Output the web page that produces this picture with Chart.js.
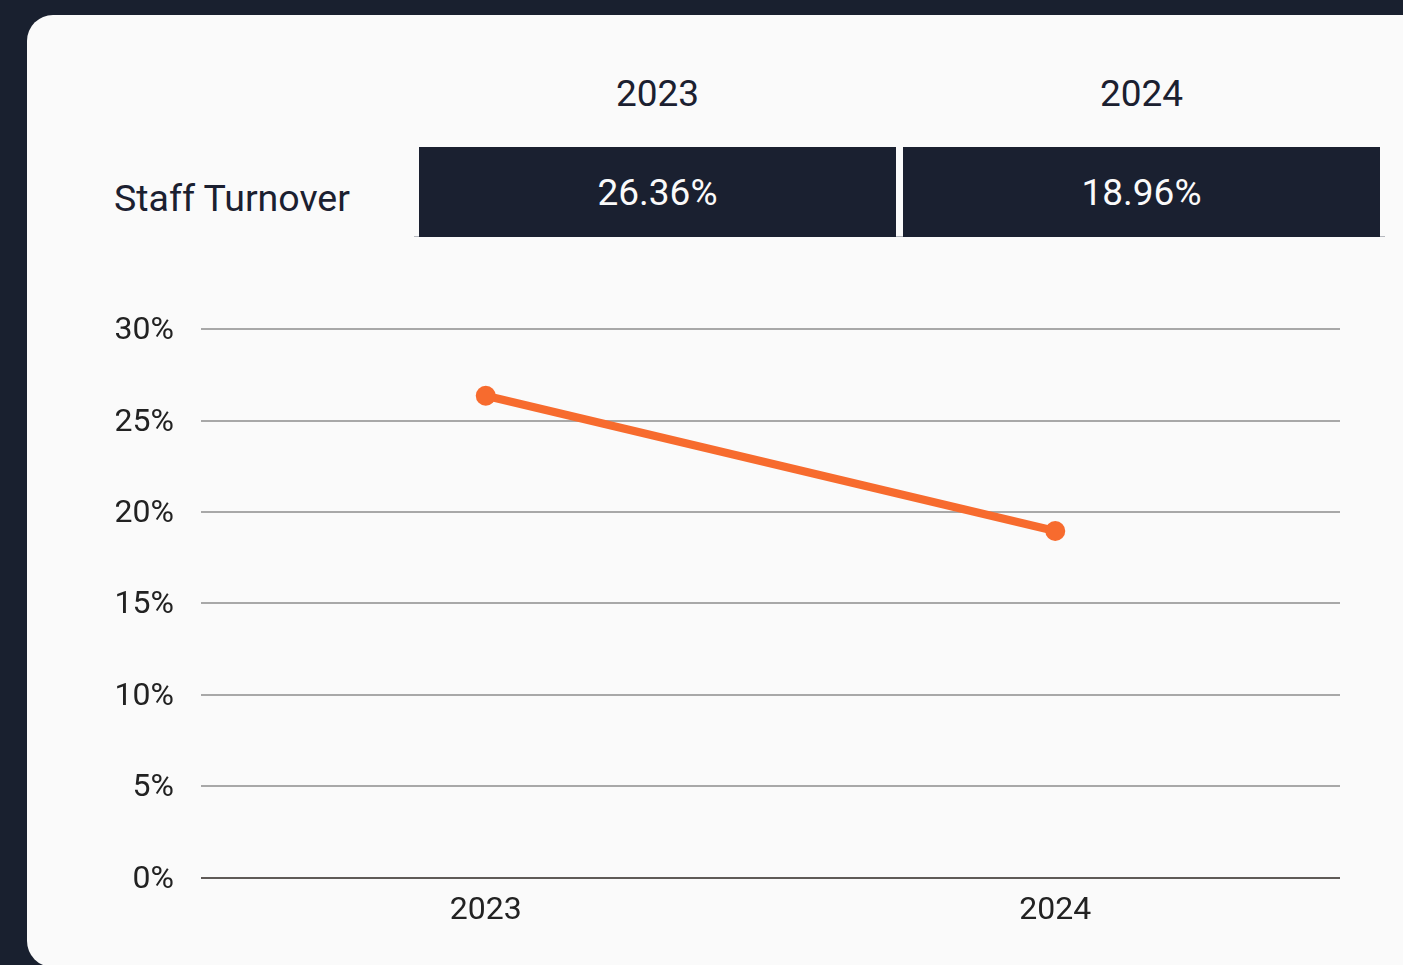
<!DOCTYPE html>
<html>
<head>
<meta charset="utf-8">
<script src="https://cdn.jsdelivr.net/npm/chart.js@4.4.1/dist/chart.umd.min.js"></script>
<style>
  html, body { margin: 0; padding: 0; }
  body { width: 1403px; height: 965px; background: #19202f; overflow: hidden; position: relative; font-family: Roboto, sans-serif; }
  .card { position: absolute; left: 27px; top: 15px; width: 1400px; height: 952px; background: #fafafa; border-radius: 26px; }
  .year { position: absolute; top: 72px; width: 477px; text-align: center; font-size: 37px; color: #1b2030; line-height: 44px; }
  .label { position: absolute; left: 114px; top: 176px; font-size: 37.5px; color: #1b2030; line-height: 44px; }
  .box { position: absolute; top: 147px; height: 90px; width: 477px; background: #1a2030; color: #fafafa; font-size: 37px; text-align: center; line-height: 92px; }
  .rule { position: absolute; left: 414px; top: 236px; width: 971px; height: 1px; background: #b5b8be; }
  #wrap { position: absolute; left: 90px; top: 283px; width: 1250px; height: 661px; }
</style>
</head>
<body>
<div class="card"></div>
<div class="rule"></div>
<div class="year" style="left:419px">2023</div>
<div class="year" style="left:903px">2024</div>
<div class="label">Staff Turnover</div>
<div class="box" style="left:419px">26.36%</div>
<div class="box" style="left:903px">18.96%</div>
<div id="wrap"><canvas id="grafico"></canvas></div>
<script>
const anos = ['2023', '2024'];
const turnover = [26.36, 18.96];
const ticksY = [0, 5, 10, 15, 20, 25, 30];

const ctx = document.getElementById('grafico');

new Chart(ctx, {
  type: 'line',
  data: {
    labels: anos,
    datasets: [{
      label: 'Staff Turnover',
      data: turnover,
      borderColor: '#f76b2e',
      backgroundColor: '#f76b2e',
      borderWidth: 8,
      pointRadius: 10,
      pointBorderWidth: 0,
      pointHoverRadius: 10,
      tension: 0
    }]
  },
  options: {
    responsive: true,
    maintainAspectRatio: false,
    animation: false,
    layout: { autoPadding: false, padding: { top: 28, right: 0, bottom: 0, left: 0 } },
    plugins: { legend: { display: false }, tooltip: { enabled: false } },
    scales: {
      x: {
        offset: true,
        grid: { display: false, drawTicks: false },
        border: { display: false },
        ticks: { color: '#222222', padding: 14, font: { family: 'Roboto', size: 32 } }
      },
      y: {
        min: ticksY[0],
        max: ticksY[ticksY.length - 1],
        afterFit: (scale) => { scale.width = 111; },
        afterBuildTicks: (scale) => { scale.ticks = ticksY.map(v => ({ value: v })); },
        grid: {
          drawTicks: false,
          lineWidth: 2,
          color: (c) => c.tick && c.tick.value === 0 ? '#5f5a57' : '#a8a8a8'
        },
        border: { display: false },
        ticks: {
          color: '#222222',
          padding: 27,
          labelOffset: 2,
          font: { family: 'Roboto', size: 32 },
          callback: (v) => v + '%'
        }
      }
    }
  }
});
</script>
</body>
</html>
